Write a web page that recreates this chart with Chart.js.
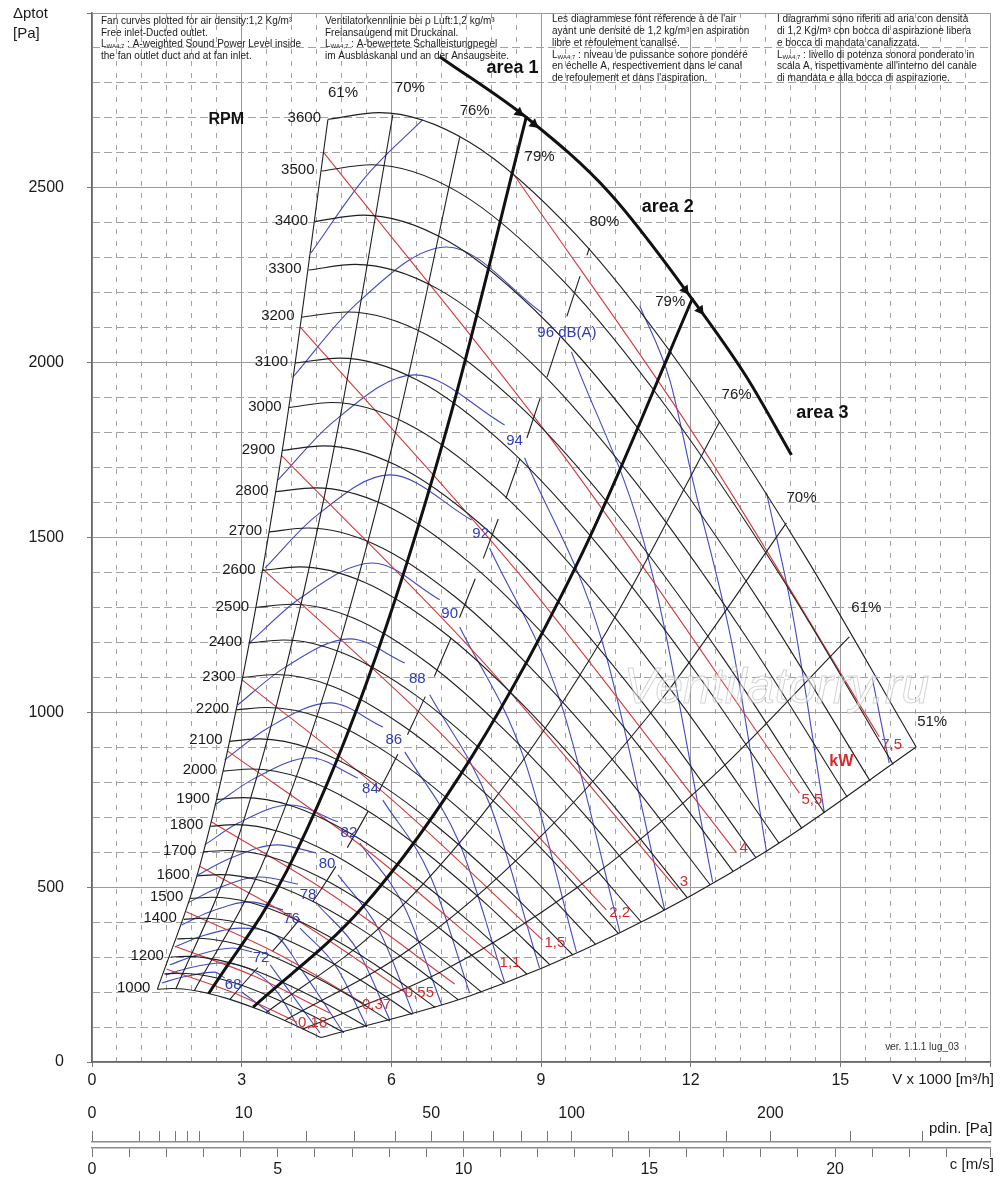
<!DOCTYPE html>
<html>
<head>
<meta charset="utf-8">
<title>Fan curves</title>
<script src="https://cdn.jsdelivr.net/npm/chart.js@4.4.1/dist/chart.umd.min.js"></script>
<style>
  html, body { margin: 0; padding: 0; background: #fff; }
  #wrap { width: 1000px; height: 1199px; }
  canvas { display: block; }
</style>
</head>
<body>
<div id="wrap">
  <canvas id="fanChart" width="1000" height="1095"></canvas>
  <canvas id="speedAxes" width="1000" height="104"></canvas>
</div>
<script>
// flow in 1000 m3/h, total pressure in Pa

// fan speed curves
const rpmSpeeds = [1000, 1100, 1200, 1300, 1400, 1500, 1600, 1700, 1800, 1900, 2000, 2100, 2200, 2300,
  2400, 2500, 2600, 2700, 2800, 2900, 3000, 3100, 3200, 3300, 3400, 3500, 3600];
const rpmTags = ['1000', '', '1200', '', '1400', '1500', '1600', '1700', '1800', '1900', '2000', '2100', '2200', '2300',
  '2400', '2500', '2600', '2700', '2800', '2900', '3000', '3100', '3200', '3300', '3400', '3500', '3600'];
const rpmFlow = [
  [1.31, 1.60, 2.10, 2.70, 3.30, 3.95, 4.59],
  [1.45, 1.76, 2.31, 2.97, 3.63, 4.35, 5.05],
  [1.58, 1.92, 2.52, 3.24, 3.96, 4.74, 5.51],
  [1.71, 2.08, 2.73, 3.51, 4.29, 5.14, 5.97],
  [1.84, 2.24, 2.94, 3.78, 4.62, 5.53, 6.42],
  [1.97, 2.40, 3.15, 4.05, 4.95, 5.93, 6.88],
  [2.10, 2.56, 3.36, 4.32, 5.28, 6.32, 7.34],
  [2.23, 2.72, 3.57, 4.59, 5.61, 6.72, 7.80],
  [2.37, 2.88, 3.78, 4.86, 5.94, 7.11, 8.26],
  [2.50, 3.04, 3.99, 5.13, 6.27, 7.51, 8.72],
  [2.63, 3.20, 4.20, 5.40, 6.60, 7.90, 9.18],
  [2.76, 3.36, 4.41, 5.67, 6.93, 8.30, 9.64],
  [2.89, 3.52, 4.62, 5.94, 7.26, 8.69, 10.10],
  [3.02, 3.68, 4.83, 6.21, 7.59, 9.09, 10.55],
  [3.15, 3.84, 5.04, 6.48, 7.92, 9.48, 11.01],
  [3.29, 4.00, 5.25, 6.75, 8.25, 9.88, 11.47],
  [3.42, 4.16, 5.46, 7.02, 8.58, 10.27, 11.93],
  [3.55, 4.32, 5.67, 7.29, 8.91, 10.67, 12.39],
  [3.68, 4.48, 5.88, 7.56, 9.24, 11.06, 12.85],
  [3.81, 4.64, 6.09, 7.83, 9.57, 11.46, 13.31],
  [3.94, 4.80, 6.30, 8.10, 9.90, 11.85, 13.77],
  [4.07, 4.96, 6.51, 8.37, 10.23, 12.25, 14.23],
  [4.20, 5.12, 6.72, 8.64, 10.56, 12.64, 14.68],
  [4.34, 5.28, 6.93, 8.91, 10.89, 13.04, 15.14],
  [4.47, 5.44, 7.14, 9.18, 11.22, 13.43, 15.60],
  [4.60, 5.60, 7.35, 9.45, 11.55, 13.83, 16.06],
  [4.73, 5.76, 7.56, 9.72, 11.88, 14.22, 16.52]
];
const rpmDp = [
  [208, 210, 203, 182, 152, 113, 70],
  [252, 254, 246, 221, 184, 137, 84],
  [300, 302, 292, 263, 219, 163, 100],
  [352, 354, 343, 308, 257, 191, 117],
  [408, 411, 398, 357, 299, 221, 136],
  [468, 471, 457, 410, 343, 254, 156],
  [532, 536, 520, 467, 390, 289, 178],
  [601, 605, 587, 527, 440, 327, 201],
  [674, 679, 658, 591, 493, 366, 225],
  [751, 756, 733, 658, 550, 408, 251],
  [832, 838, 812, 729, 609, 452, 278],
  [917, 924, 895, 804, 672, 498, 306],
  [1007, 1014, 983, 882, 737, 547, 336],
  [1100, 1108, 1074, 964, 806, 598, 368],
  [1198, 1207, 1169, 1050, 877, 651, 400],
  [1300, 1309, 1269, 1139, 952, 706, 434],
  [1406, 1416, 1372, 1232, 1030, 764, 470],
  [1516, 1527, 1480, 1329, 1110, 824, 507],
  [1631, 1642, 1592, 1429, 1194, 886, 545],
  [1749, 1762, 1707, 1533, 1281, 950, 584],
  [1872, 1886, 1827, 1641, 1371, 1017, 626],
  [1999, 2013, 1951, 1752, 1464, 1086, 668],
  [2130, 2145, 2079, 1867, 1560, 1157, 712],
  [2265, 2281, 2211, 1985, 1659, 1231, 757],
  [2404, 2422, 2347, 2107, 1761, 1306, 803],
  [2548, 2566, 2487, 2233, 1866, 1384, 851],
  [2696, 2715, 2631, 2363, 1974, 1464, 901]
];

// efficiency lines
const effTags = ['61%', '70%', '76%', '79%', '80%', '79%', '76%', '70%', '61%', '51%'];
const effFlow = [
  [1.31, 2.17, 3.02, 3.88, 4.73],
  [1.68, 2.76, 3.85, 4.94, 6.03],
  [2.05, 3.38, 4.71, 6.04, 7.37],
  [2.34, 3.86, 5.39, 6.91, 8.43],
  [2.77, 4.57, 6.37, 8.17, 9.97],
  [3.23, 5.32, 7.42, 9.51, 11.61],
  [3.49, 5.77, 8.04, 10.31, 12.58],
  [3.87, 6.38, 8.89, 11.41, 13.92],
  [4.22, 6.96, 9.70, 12.44, 15.18],
  [4.59, 7.57, 10.56, 13.54, 16.52]
];
const effDp = [
  [208, 566, 1100, 1810, 2696],
  [209, 569, 1106, 1819, 2709],
  [204, 555, 1079, 1775, 2644],
  [196, 534, 1038, 1707, 2543],
  [180, 489, 950, 1563, 2328],
  [157, 427, 829, 1364, 2031],
  [141, 385, 747, 1230, 1831],
  [119, 324, 630, 1036, 1542],
  [94, 255, 496, 816, 1216],
  [70, 189, 368, 605, 901]
];

// area boundaries and the area arc
const areaFlow = [[2.34, 3.90, 5.50, 7.10, 8.71], [3.23, 5.43, 7.63, 9.84, 12.04]];
const areaDp = [[196, 545, 1083, 1805, 2705], [157, 444, 877, 1459, 2185]];
const arcFlow = [6.97, 8.77, 10.37, 12.04, 13.12, 14.02];
const arcDp = [2875, 2694, 2486, 2180, 1959, 1736];
const arrowFlow = [8.56, 8.86, 11.89, 12.19];
const arrowDp = [2715, 2682, 2208, 2150];

// shaft power, kW
const powerTags = ['0,18', '', '0,37', '0,55', '', '1,1', '1,5', '2,2', '3', '4', '5,5', '7,5'];
const powerFlow = [
  [1.49, 2.80, 4.11], [1.66, 3.21, 4.77], [1.89, 3.66, 5.43], [2.16, 4.21, 6.27],
  [2.39, 4.83, 7.27], [2.72, 5.43, 8.13], [3.01, 6.02, 9.03], [3.42, 6.87, 10.31],
  [3.80, 7.77, 11.74], [4.18, 8.55, 12.92], [4.65, 9.41, 14.18], [8.43, 12.11, 15.78]
];
const powerDp = [
  [266, 200, 114], [331, 248, 140], [430, 314, 169], [560, 397, 200],
  [687, 476, 223], [889, 615, 292], [1093, 749, 349], [1410, 957, 435],
  [1734, 1155, 492], [2101, 1398, 598], [2600, 1742, 769], [2543, 1785, 930]
];

// sound power level, dB(A) (null = gap for the label)
const soundTags = ['68', '', '72', '', '76', '78', '80', '82', '84', '86', '88', '90', '92', '94', '96 dB(A)', '', '', ''];
const soundFlow = [
  [1.40, 1.82, 2.46, 2.66, null, 3.00, 3.57],
  [1.48, 1.92, 2.60, 3.27, 3.73, 4.11],
  [1.56, 2.06, 2.82, 3.21, null, 3.57, 4.01, 4.57],
  [1.66, 2.18, 2.96, 3.67, 4.27, 5.03],
  [1.80, 2.34, 3.16, 3.83, null, 4.17, 4.91, 5.51],
  [1.92, 2.50, 3.37, 4.13, null, 4.53, 5.33, 5.97],
  [2.12, 2.76, 3.71, 4.49, null, 4.93, 5.75, 6.43],
  [2.26, 2.94, 3.97, 4.93, null, 5.37, 6.27, 7.01],
  [2.46, 3.23, 4.37, 5.33, null, 5.83, 6.79, 7.57],
  [2.66, 3.51, 4.77, 5.83, null, 6.27, 7.37, 8.27],
  [2.92, 3.83, 5.17, 6.27, null, 6.77, 7.97, 8.97],
  [3.16, 4.15, 5.63, 6.97, null, 7.37, 8.65, 9.71],
  [3.47, 4.47, 5.97, 7.61, null, 7.97, 9.39, 10.58],
  [3.73, 4.83, 6.47, 8.27, null, 8.67, 10.21, 11.48],
  [4.03, 5.27, 7.11, 9.03, null, 9.61, 11.18, 12.44],
  [4.39, 5.47, 6.63, null, 10.98, 11.58, 12.04, 12.84, 13.52],
  [13.52, 14.04, 14.68],
  [15.64, 15.98]
];
const soundDp = [
  [226, 243, 257, 240, null, 200, 140],
  [249, 268, 283, 257, 197, 106],
  [278, 304, 326, 315, null, 278, 192, 83],
  [329, 359, 383, 363, 249, 86],
  [392, 428, 458, 435, null, 383, 269, 100],
  [455, 496, 529, 509, null, 449, 318, 120],
  [535, 582, 621, 598, null, 535, 378, 140],
  [621, 684, 735, 687, null, 626, 441, 163],
  [735, 809, 870, 812, null, 749, 529, 197],
  [864, 954, 1027, 958, null, 887, 624, 229],
  [1021, 1125, 1210, 1141, null, 1050, 738, 269],
  [1199, 1324, 1427, 1322, null, 1244, 872, 315],
  [1413, 1559, 1679, 1550, null, 1470, 1030, 372],
  [1665, 1830, 1965, 1822, null, 1728, 1210, 435],
  [1959, 2164, 2331, 2142, null, 2031, 1425, 515],
  [2314, 2529, 2695, null, 2163, 1951, 1665, 1187, 601],
  [1628, 1284, 712],
  [1098, 855]
];

// lower scales
const pdinTicks = [0, 1, 2, 3, 4, 5, 10, 20, 30, 40, 50, 60, 70, 80, 90, 100, 125, 150, 175, 200, 250, 300];
const pdinLabels = [0, 10, 50, 100, 200];

const noteEn = ['Fan curves plotted for air density:1,2 Kg/m³', 'Free inlet-Ducted outlet.',
  'L_WA4;7 : A-weighted Sound Power Level inside', 'the fan outlet duct and at fan inlet.'];
const noteDe = ['Ventilatorkennlinie bei ρ Luft:1,2 kg/m³', 'Freiansaugend mit Druckanal.',
  'L_WA4;7 : A-bewertete Schalleistungpegel', 'im Ausblaskanal und an der Ansaugseite.'];
const noteFr = ["Les diagrammese font réference à de l'air", 'ayant une densité de 1,2 kg/m³ en aspiration',
  'libre et refoulement canalisé.', 'L_WA4;7 : niveau de puissance sonore pondéré',
  'en échelle A, respectivement dans le canal', "de refoulement et dans l'aspiration."];
const noteIt = ['I diagrammi sono riferiti ad aria con densità', 'di 1,2 Kg/m³ con bocca di aspirazione libera',
  'e bocca di mandata canalizzata.', 'L_WA4;7 : livello di potenza sonora ponderato in',
  "scala A, rispettivamente all'interno del canale", 'di mandata e alla bocca di aspirazione.'];

const FONT = '"Liberation Sans", Arial, Helvetica, sans-serif';
Chart.defaults.font.family = FONT;
Chart.defaults.color = '#1a1a1a';

const toPoints = (xs, ys) => xs.map((v, j) => ({ x: v, y: ys[j] }));
const curve = (data, color, width, order, extra) => Object.assign({
  data, showLine: true, borderColor: color, borderWidth: width, pointRadius: 0,
  cubicInterpolationMode: 'monotone', order
}, extra || {});

const datasets = [];
soundFlow.forEach((f, i) => datasets.push(curve(toPoints(f, soundDp[i]), '#3f49c6', 1.1, 4)));
powerFlow.forEach((f, i) => datasets.push(curve(toPoints(f, powerDp[i]), '#d6393a', 1.1, 3)));
rpmFlow.forEach((f, i) => datasets.push(curve(toPoints(f, rpmDp[i]), '#1e1e1e', 1.1, 2)));
effFlow.forEach((f, i) => datasets.push(curve(toPoints(f, effDp[i]), '#1e1e1e', 1.1, 2,
  i === 4 ? { borderDash: [42, 22] } : null)));
areaFlow.forEach((f, i) => datasets.push(curve(toPoints(f, areaDp[i]), '#111', 3, 1)));
datasets.push(curve(toPoints(arcFlow, arcDp), '#111', 3, 1));
datasets.push({
  data: toPoints(arrowFlow, arrowDp), showLine: false, pointStyle: 'triangle',
  pointRadius: 6, rotation: [129, 129, 144, 144], backgroundColor: '#111', borderWidth: 0, order: 0
});

function drawNote(ctx, lines, x, y0) {
  lines.forEach((line, i) => {
    const y = y0 + i * 11.8;
    if (line.startsWith('L_WA4;7')) {
      ctx.font = '10px ' + FONT;
      ctx.fillText('L', x, y);
      let cx = x + ctx.measureText('L').width;
      ctx.font = '6px ' + FONT;
      ctx.fillText('WA4;7', cx, y + 2);
      cx += ctx.measureText('WA4;7').width;
      ctx.font = '10px ' + FONT;
      ctx.fillText(line.slice(7), cx, y);
    } else {
      ctx.font = '10px ' + FONT;
      ctx.fillText(line, x, y);
    }
  });
}

// scales keep exactly the size they are given (no room reserved for edge labels)
const fixSize = (w, h) => s => {
  if (w !== null) s.width = w;
  if (h !== null) s.height = h;
  s.paddingTop = 0; s.paddingBottom = 0; s.paddingLeft = 0; s.paddingRight = 0;
};

const effShift = [[15, -26], [17, -27], [15, -27], [27, -16], [15, -26], [-1, -50], [17, -27], [15, -25], [17, -29], [16, -25]];
const powerShift = [[1, 1], [0, 0], [-1, 2], [0, 1], [0, 0], [2, 3], [2, 3], [3, 3], [2, -8], [3, -5], [2, 7], [2, 8]];

const fanNotes = {
  id: 'fanNotes',
  afterDatasetsDraw(chart) {
    const ctx = chart.ctx;
    const X = v => chart.scales.x.getPixelForValue(v);
    const Y = v => chart.scales.y.getPixelForValue(v);
    ctx.save();
    ctx.textBaseline = 'middle';

    // watermark
    ctx.font = 'italic 50px ' + FONT;
    ctx.textAlign = 'center';
    ctx.fillStyle = 'rgba(255,255,255,0.5)';
    ctx.strokeStyle = 'rgba(160,160,160,0.45)';
    ctx.lineWidth = 1;
    ctx.fillText('Ventilatorry.ru', X(13.72), Y(1067));
    ctx.strokeText('Ventilatorry.ru', X(13.72), Y(1067));

    // header notes
    ctx.fillStyle = '#1a1a1a';
    ctx.textAlign = 'left';
    drawNote(ctx, noteEn, 101, 21);
    drawNote(ctx, noteDe, 325, 21);
    drawNote(ctx, noteFr, 552, 19.5);
    drawNote(ctx, noteIt, 777, 19.5);

    // rpm labels
    ctx.font = '15px ' + FONT;
    ctx.textAlign = 'right';
    rpmTags.forEach((t, i) => {
      if (t) ctx.fillText(t, X(rpmFlow[i][0]) - 7, Y(rpmDp[i][0]) - 1);
    });

    // efficiency labels
    ctx.textAlign = 'center';
    effTags.forEach((t, i) => {
      const n = effFlow[i].length - 1;
      ctx.fillText(t, X(effFlow[i][n]) + effShift[i][0], Y(effDp[i][n]) + effShift[i][1]);
    });

    // sound labels, in the gap of each curve
    ctx.fillStyle = '#2f3cb8';
    soundTags.forEach((t, i) => {
      if (!t) return;
      const g = soundFlow[i].indexOf(null);
      const mx = (X(soundFlow[i][g - 1]) + X(soundFlow[i][g + 1])) / 2 + (t.length > 3 ? 10 : 0);
      const my = (Y(soundDp[i][g - 1]) + Y(soundDp[i][g + 1])) / 2;
      ctx.fillText(t, mx, my);
    });

    // power labels at the end of each line
    ctx.fillStyle = '#d42b2b';
    ctx.textAlign = 'left';
    powerTags.forEach((t, i) => {
      if (!t) return;
      const n = powerFlow[i].length - 1;
      ctx.fillText(t, X(powerFlow[i][n]) + powerShift[i][0], Y(powerDp[i][n]) + powerShift[i][1]);
    });
    ctx.textAlign = 'center';
    ctx.font = 'bold 16px ' + FONT;
    ctx.fillText('kW', X(15.02), Y(858));

    // titles inside the plot
    ctx.fillStyle = '#111';
    ctx.fillText('RPM', X(2.69), Y(2694));
    ctx.font = 'bold 18px ' + FONT;
    ctx.fillText('area 1', X(8.43), Y(2843));
    ctx.fillText('area 2', X(11.54), Y(2446));
    ctx.fillText('area 3', X(14.64), Y(1856));

    ctx.font = '10px "Liberation Sans Narrow", ' + FONT;
    ctx.fillStyle = '#333';
    ctx.fillText('ver. 1.1.1 lug_03', X(16.64), Y(43));

    // axis titles
    ctx.fillStyle = '#1a1a1a';
    ctx.font = '15px ' + FONT;
    ctx.textAlign = 'left';
    ctx.fillText('\u0394ptot', 13, 14);
    ctx.fillText('[Pa]', 13, 34);
    ctx.textAlign = 'right';
    ctx.fillText('V x 1000 [m³/h]', 994, 1080);
    ctx.restore();
  }
};

const tickFont = { family: FONT, size: 16 };

new Chart(document.getElementById('fanChart'), {
  type: 'scatter',
  data: { datasets },
  options: {
    responsive: false,
    animation: false,
    events: [],
    layout: { padding: { top: 13, right: 10, left: 0, bottom: 0 } },
    plugins: { legend: { display: false }, tooltip: { enabled: false } },
    scales: {
      x: {
        type: 'linear', position: 'bottom', min: 0, max: 18,
        afterFit: fixSize(null, 33),
        ticks: { stepSize: 3, autoSkip: false, maxRotation: 0, padding: 4, font: tickFont,
          callback: v => (v < 18 ? v : '') },
        grid: { color: '#9a9a9a', lineWidth: 1, tickLength: 5, tickColor: '#777' },
        border: { color: '#666', width: 1.5 }
      },
      xFine: {
        type: 'linear', position: 'top', min: 0, max: 18,
        afterFit: fixSize(null, 0),
        ticks: { display: false, stepSize: 0.5, autoSkip: false },
        grid: { drawTicks: false, lineWidth: 1,
          color: c => (c.tick && c.tick.value % 3 === 0 ? 'rgba(0,0,0,0)' : '#a2a2a2') },
        border: { display: false, dash: [5, 7] }
      },
      y: {
        type: 'linear', position: 'left', min: 0, max: 3000,
        afterFit: fixSize(92, null),
        ticks: { stepSize: 500, autoSkip: false, padding: 23, font: tickFont,
          callback: v => (v < 3000 ? v : '') },
        grid: { color: '#9a9a9a', lineWidth: 1, tickLength: 5, tickColor: '#777' },
        border: { color: '#666', width: 1.5 }
      },
      yFine: {
        type: 'linear', position: 'right', min: 0, max: 3000,
        afterFit: fixSize(0, null),
        ticks: { display: false, stepSize: 100, autoSkip: false },
        grid: { drawTicks: false, lineWidth: 1,
          color: c => (c.tick && c.tick.value % 500 === 0 ? 'rgba(0,0,0,0)' : '#a2a2a2') },
        border: { display: false, dash: [8, 4] }
      }
    }
  },
  plugins: [fanNotes]
});

// dynamic pressure and outlet velocity scales
const axisNotes = {
  id: 'axisNotes',
  afterDraw(chart) {
    const ctx = chart.ctx;
    ctx.save();
    ctx.fillStyle = '#1a1a1a';
    ctx.font = '15px ' + FONT;
    ctx.textBaseline = 'middle';
    ctx.textAlign = 'left';
    ctx.fillText('pdin. [Pa]', 929, 34);
    ctx.textAlign = 'right';
    ctx.fillText('c [m/s]', 994, 70);
    ctx.restore();
  }
};

new Chart(document.getElementById('speedAxes'), {
  type: 'scatter',
  data: { datasets: [] },
  options: {
    responsive: false,
    animation: false,
    events: [],
    layout: { padding: { left: 92, right: 10, top: 0, bottom: 0 } },
    plugins: { legend: { display: false }, tooltip: { enabled: false } },
    scales: {
      pdin: {
        type: 'linear', axis: 'x', position: 'top', min: 0, max: 24.17,
        // pdin = 1/2 * 1.2 kg/m3 * c^2
        afterBuildTicks: s => { s.ticks = pdinTicks.map(p => ({ value: Math.sqrt(p / 0.6), pdin: p })); },
        afterFit: fixSize(null, 47),
        ticks: { autoSkip: false, maxRotation: 0, padding: 8, font: tickFont,
          callback: (v, i, t) => (pdinLabels.includes(t[i].pdin) ? String(t[i].pdin) : '') },
        grid: { drawOnChartArea: false, tickLength: 11, tickColor: '#777', tickWidth: 1 },
        border: { color: '#8a8a8a', width: 1.5 }
      },
      c: {
        type: 'linear', axis: 'x', position: 'bottom', min: 0, max: 24.17,
        afterFit: fixSize(null, 51),
        ticks: { stepSize: 1, autoSkip: false, maxRotation: 0, padding: 3, font: tickFont,
          callback: v => (v % 5 === 0 ? v : '') },
        grid: { drawOnChartArea: false, tickLength: 9, tickColor: '#777', tickWidth: 1 },
        border: { color: '#8a8a8a', width: 1.5 }
      },
      y: { display: false, min: 0, max: 1 }
    }
  },
  plugins: [axisNotes]
});
</script>
</body>
</html>
